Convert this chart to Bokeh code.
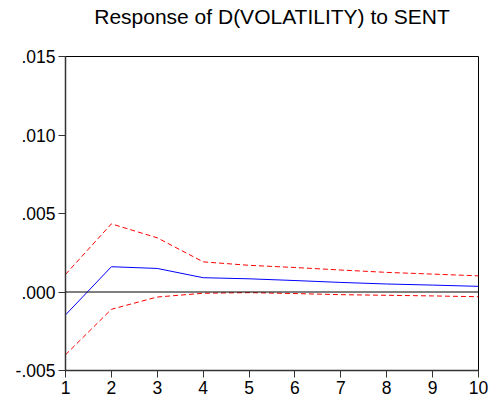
from bokeh.plotting import figure
from bokeh.models import Range1d, Span, FixedTicker, CustomJSTickFormatter, Title
from bokeh.embed import file_html
from bokeh.resources import INLINE

periods = [1, 2, 3, 4, 5, 6, 7, 8, 9, 10]
response = [-0.00146, 0.00161, 0.00150, 0.00091, 0.00084, 0.00073, 0.00061, 0.00051, 0.00044, 0.00036]
upper = [0.00112, 0.00434, 0.00345, 0.00192, 0.00170, 0.00156, 0.00140, 0.00125, 0.00114, 0.00103]
lower = [-0.00400, -0.00110, -0.00032, -0.00008, -0.00004, -0.00010, -0.00017, -0.00021, -0.00025, -0.00030]
y_ticks = [-0.005, 0.0, 0.005, 0.010, 0.015]
x_ticks = [1, 2, 3, 4, 5, 6, 7, 8, 9, 10]
title_text = "Response of D(VOLATILITY) to SENT"

p = figure(width=491, height=400, output_backend="svg", toolbar_location=None,
           x_range=Range1d(1, 10), y_range=Range1d(-0.005, 0.015),
           min_border_left=65, min_border_right=13, min_border_bottom=30, min_border_top=0)
p.title = None
spacer = Title(text=" ", text_font_size="2px", standoff=18)
p.add_layout(spacer, "above")
t = Title(text=title_text, align="center", vertical_align="top", text_font="Liberation Sans",
          text_font_size="21px", text_font_style="normal", text_color="black", standoff=9)
p.add_layout(t, "above")

p.outline_line_color = "black"
p.outline_line_width = 1
p.grid.visible = False
p.background_fill_color = "white"
p.border_fill_color = "white"

for ax in (p.xaxis[0], p.yaxis[0]):
    ax.major_label_text_font = "Liberation Sans"
    ax.major_label_text_font_size = "17.5px"
    ax.major_label_text_color = "black"
    ax.major_tick_out = 7
    ax.major_tick_in = 0
    ax.minor_tick_out = 0
    ax.minor_tick_in = 0
    ax.major_tick_line_color = "#333333"
    ax.axis_line_color = "#333333"
    ax.axis_line_width = 1.5
    ax.major_label_standoff = 3

p.xaxis.ticker = FixedTicker(ticks=x_ticks)
p.yaxis.ticker = FixedTicker(ticks=y_ticks)
p.yaxis.formatter = CustomJSTickFormatter(code="""
    const s = tick.toFixed(3);
    return s.replace('0.', '.');
""")

p.add_layout(Span(location=0, dimension="width", line_color="black", line_width=1))

p.line(periods, upper, line_color="#ff0000", line_width=1, line_dash="5 3")
p.line(periods, lower, line_color="#ff0000", line_width=1, line_dash="5 3")
p.line(periods, response, line_color="#0000ff", line_width=1)

open("out.html", "w").write(file_html(p, INLINE))
